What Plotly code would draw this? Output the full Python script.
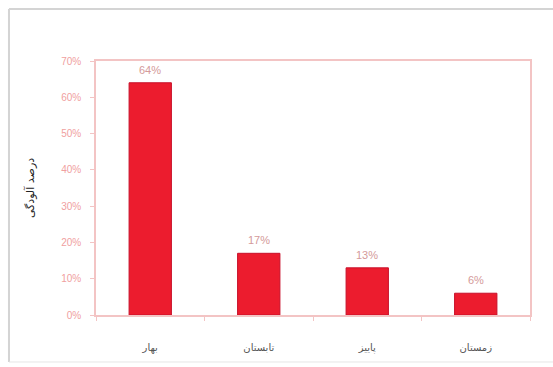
import plotly.graph_objects as go

categories = ["بهار", "تابستان", "پاییز", "زمستان"]
values = [0.64, 0.17, 0.13, 0.06]
value_labels = ["64%", "17%", "13%", "6%"]
y_title = "درصد آلودگی"

fig = go.Figure()
fig.add_trace(go.Bar(
    x=categories, y=values,
    marker=dict(color="#ec1c2e", line=dict(color="#c8102a", width=1)),
    width=0.39,
))

annotations = [
    dict(x=c, y=v, text=t, xref="x", yref="y", showarrow=False,
         yanchor="bottom", yshift=5,
         font=dict(size=11, color="#d49a9a", family="Liberation Sans"))
    for c, v, t in zip(categories, values, value_labels)
]

axis_color = "#f3c4c4"
fig.update_layout(
    width=553, height=367,
    margin=dict(l=96, r=23, t=61, b=52),
    paper_bgcolor="white", plot_bgcolor="white",
    showlegend=False,
    font=dict(family="DejaVu Sans"),
    annotations=annotations,
    xaxis=dict(
        showline=True, mirror=True, linecolor=axis_color, linewidth=1.5,
        ticks="outside", tickson="boundaries", ticklen=4, tickcolor=axis_color,
        tickfont=dict(size=10, color="#555555"),
        ticklabelstandoff=22,
        showgrid=False,
    ),
    yaxis=dict(
        range=[0, 0.70], dtick=0.1, tickformat=".0%",
        showline=True, mirror=True, linecolor=axis_color, linewidth=1.5,
        ticks="outside", ticklen=4, tickcolor=axis_color,
        tickfont=dict(size=10, color="#f0a0a0", family="Liberation Sans"),
        ticklabelstandoff=7,
        showgrid=False, zeroline=False,
        title=dict(text=y_title, font=dict(size=11, color="#222222"), standoff=24),
    ),
    shapes=[
        dict(type="line", xref="paper", yref="paper",
             x0=-0.2005, x1=-0.2005, y0=-0.185, y1=1.205,
             line=dict(color="#d4d4d4", width=2), layer="below"),
        dict(type="line", xref="paper", yref="paper",
             x0=-0.2005, x1=1.06, y0=1.205, y1=1.205,
             line=dict(color="#d4d4d4", width=2), layer="below"),
        dict(type="line", xref="paper", yref="paper",
             x0=-0.2005, x1=1.06, y0=-0.185, y1=-0.185,
             line=dict(color="#e6e6e6", width=1), layer="below"),
    ],
)

fig.write_html("out.html", config={"displayModeBar": False},
               post_script="document.body.style.margin='0';")
